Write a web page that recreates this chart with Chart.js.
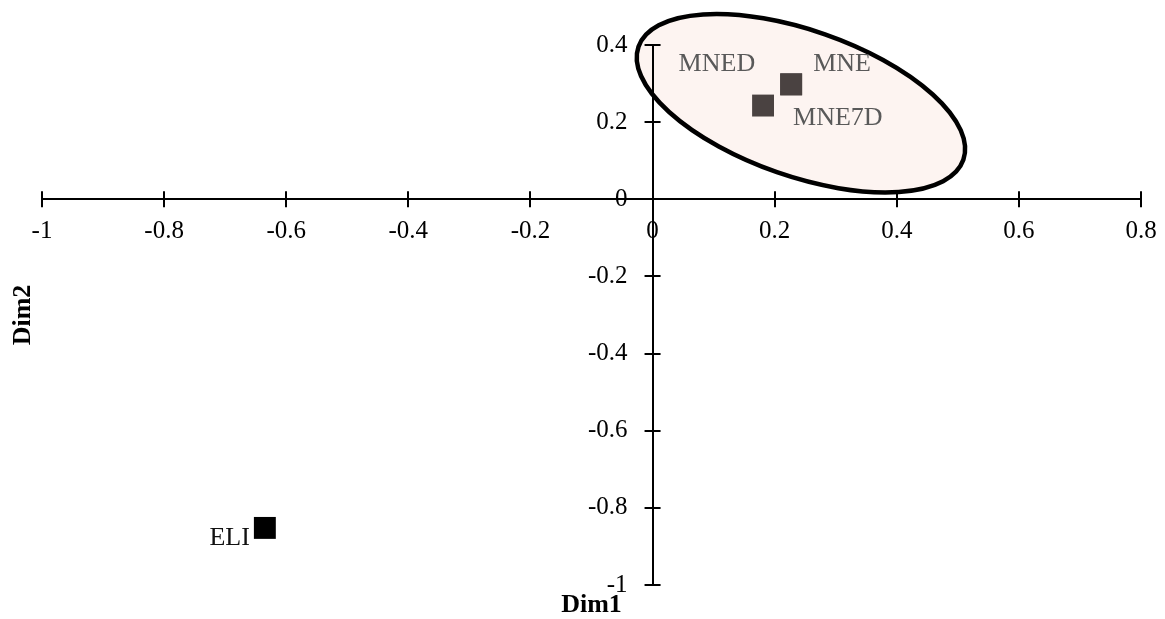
<!DOCTYPE html>
<html>
<head>
<meta charset="utf-8">
<script src="https://cdn.jsdelivr.net/npm/chart.js@4"></script>
<style>
  html, body { margin: 0; padding: 0; background: #fff; }
  #wrap { width: 1165px; height: 619px; }
</style>
</head>
<body>
<div id="wrap"><canvas id="myChart"></canvas></div>
<script>
// 요인 좌표 (Dim1 / Dim2)
const pointNames = ["MNE", "MNED", "MNE7D", "ELI"];
const dim1 = [0.227, 0.227, 0.181, -0.635];
const dim2 = [0.298, 0.298, 0.243, -0.852];
const pointColors = ["#4a4241", "#4a4241", "#4a4241", "#000000"];

const xTickValues = [-1, -0.8, -0.6, -0.4, -0.2, 0, 0.2, 0.4, 0.6, 0.8];
const yTickValues = [-1, -0.8, -0.6, -0.4, -0.2, 0, 0.2, 0.4];

// 라벨 위치 (점 기준 px 오프셋)
const labelPlace = {
  MNE:   { align: "left",  dx: 22,  dy: -20, color: "#595959" },
  MNED:  { align: "right", dx: -36, dy: -20, color: "#595959" },
  MNE7D: { align: "left",  dx: 30,  dy: 13,  color: "#595959" },
  ELI:   { align: "right", dx: -15, dy: 10,  color: "#111111" },
};

// 그룹 타원 (중심은 데이터 좌표, 반경은 px)
const groupEllipse = { cx: 0.243, cy: 0.249, rx: 172, ry: 73, angle: 19.2 };

const SERIF = "'Liberation Serif', 'Times New Roman', serif";
const fmtTick = (v) => String(Number(v.toFixed(1)));

const ellipsePlugin = {
  id: "ellipse",
  beforeDraw(chart) {
    const { ctx, scales: { x, y } } = chart;
    const e = groupEllipse;
    ctx.save();
    ctx.translate(x.getPixelForValue(e.cx), y.getPixelForValue(e.cy));
    ctx.rotate((e.angle * Math.PI) / 180);
    ctx.beginPath();
    ctx.ellipse(0, 0, e.rx, e.ry, 0, 0, Math.PI * 2);
    ctx.fillStyle = "#fdf4f1";
    ctx.fill();
    ctx.lineWidth = 4.5;
    ctx.strokeStyle = "#000";
    ctx.stroke();
    ctx.restore();
  },
};

// 축 눈금(양쪽으로 교차), 점 라벨, 축 제목
const decorPlugin = {
  id: "decor",
  afterDraw(chart) {
    const { ctx, chartArea: a, scales: { x, y } } = chart;
    const x0 = x.getPixelForValue(0);
    const y0 = y.getPixelForValue(0);
    ctx.save();
    ctx.strokeStyle = "#000";
    ctx.lineWidth = 2;
    ctx.beginPath();
    xTickValues.forEach((v) => {
      const px = Math.round(x.getPixelForValue(v));
      ctx.moveTo(px, y0 - 8);
      ctx.lineTo(px, y0 + 8);
    });
    yTickValues.forEach((v) => {
      const py = Math.round(y.getPixelForValue(v));
      ctx.moveTo(x0 - 8, py);
      ctx.lineTo(x0 + 8, py);
    });
    ctx.stroke();

    ctx.font = "26px " + SERIF;
    ctx.textBaseline = "middle";
    pointNames.forEach((name, i) => {
      const p = labelPlace[name];
      ctx.fillStyle = p.color;
      ctx.textAlign = p.align;
      ctx.fillText(name, x.getPixelForValue(dim1[i]) + p.dx, y.getPixelForValue(dim2[i]) + p.dy);
    });

    ctx.fillStyle = "#000";
    ctx.font = "bold 26px " + SERIF;
    ctx.textAlign = "center";
    ctx.fillText("Dim1", (a.left + a.right) / 2, a.bottom + 20);
    ctx.translate(a.left - 19, (a.top + a.bottom) / 2);
    ctx.rotate(-Math.PI / 2);
    ctx.fillText("Dim2", 0, 0);
    ctx.restore();
  },
};

new Chart(document.getElementById("myChart"), {
  type: "scatter",
  data: {
    datasets: [{
      data: dim1.map((v, i) => ({ x: v, y: dim2[i] })),
      pointStyle: "rect",
      pointRadius: 15.5,
      pointHoverRadius: 15.5,
      pointBackgroundColor: pointColors,
      pointBorderColor: pointColors,
      pointBorderWidth: 0,
    }],
  },
  options: {
    responsive: true,
    maintainAspectRatio: false,
    animation: false,
    layout: { padding: { left: 42, right: 24, top: 45, bottom: 34 } },
    plugins: { legend: { display: false }, tooltip: { enabled: false } },
    scales: {
      x: {
        type: "linear",
        position: { y: 0 },
        min: -1, max: 0.8,
        grid: { drawOnChartArea: false, drawTicks: false },
        border: { color: "#000", width: 2 },
        ticks: {
          stepSize: 0.2, autoSkip: false, maxRotation: 0, padding: 17,
          color: "#000", font: { family: SERIF, size: 25 },
          callback: fmtTick,
        },
        // 끝 라벨 때문에 오른쪽 여백이 늘어나지 않도록
        afterFit: (s) => { s.paddingLeft = 0; s.paddingRight = 0; },
      },
      y: {
        type: "linear",
        position: { x: 0 },
        min: -1, max: 0.4,
        grid: { drawOnChartArea: false, drawTicks: false },
        border: { color: "#000", width: 2 },
        ticks: {
          stepSize: 0.2, autoSkip: false,
          color: "#000", font: { family: SERIF, size: 25 },
          // 축에서 떨어뜨리기 위한 뒤쪽 공백
          callback: (v) => fmtTick(v) + "    ",
        },
      },
    },
  },
  plugins: [ellipsePlugin, decorPlugin],
});
</script>
</body>
</html>
